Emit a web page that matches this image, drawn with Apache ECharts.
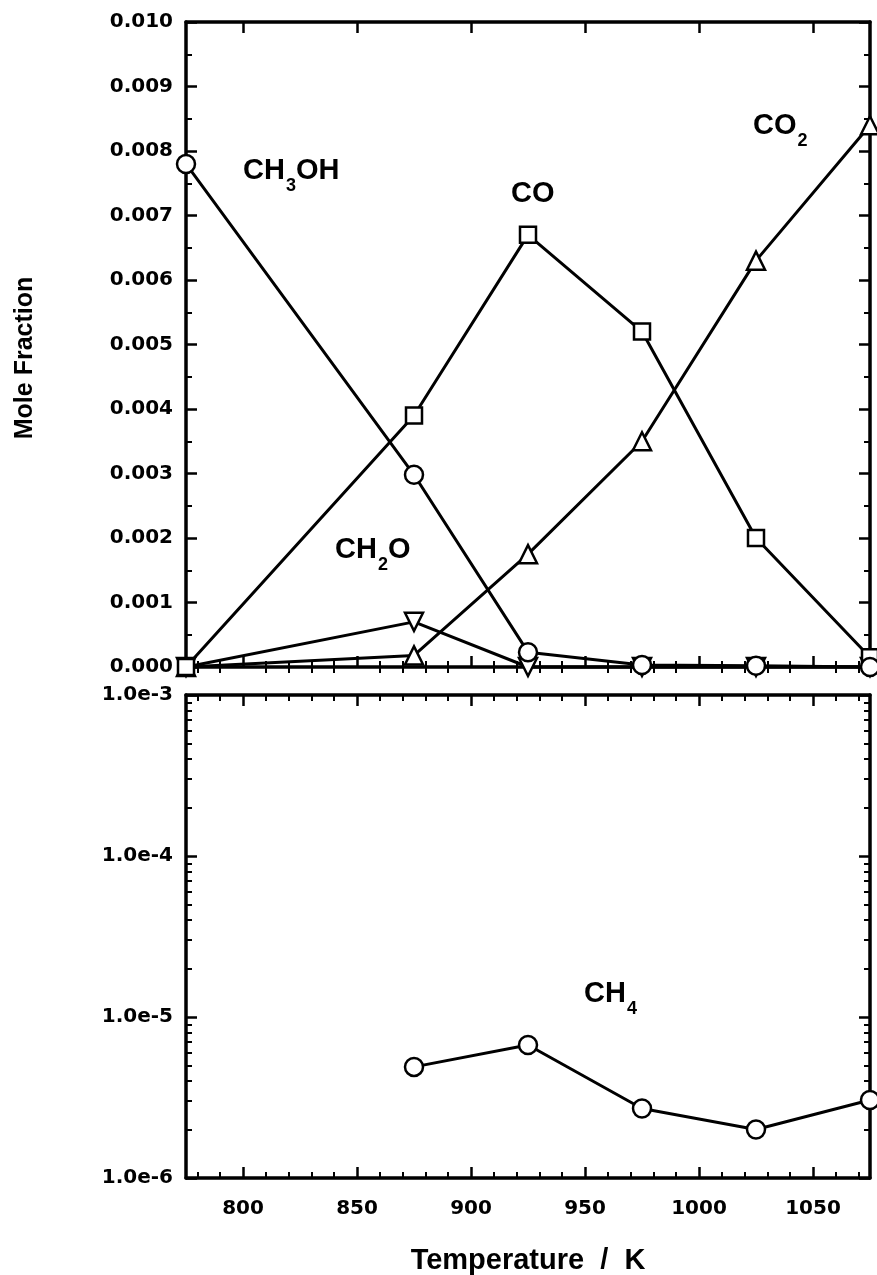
<!DOCTYPE html>
<html>
<head>
<meta charset="utf-8">
<script src="https://cdn.jsdelivr.net/npm/echarts@6/dist/echarts.min.js"></script>
<style>
  html, body { margin: 0; padding: 0; background: #fff; }
  #chart { width: 877px; height: 1275px; }
</style>
</head>
<body>
<div id="chart"></div>
<script>
// Reactor temperatures (K) and measured mole fractions
const temperatures = [775, 875, 925, 975, 1025, 1075];
const ch3oh = [0.0078, 0.00298, 0.00023, 0.00003, 0.00002, 0.0];
const co    = [0.0, 0.0039, 0.0067, 0.0052, 0.0020, 0.00015];
const co2   = [0.0, 0.00018, 0.00175, 0.0035, 0.0063, 0.0084];
const ch2o  = [0.0, 0.0007, 0.0, 0.0, 0.0, 0.0];

// Methane on the logarithmic panel
const ch4Temps = [875, 925, 975, 1025, 1075];
const ch4      = [4.9e-6, 6.7e-6, 2.7e-6, 2.0e-6, 3.05e-6];

// Tick positions
const xMajorTicks = [800, 850, 900, 950, 1000, 1050];
const xMinorTicks = [];
for (let t = 780; t < 1075; t += 10) if (t % 50 !== 0) xMinorTicks.push(t);
const logMinorTicks = [];
for (let e = -6; e < -3; e++) for (let k = 2; k <= 9; k++) logMinorTicks.push(Math.log10(k) + e);

const TICK_FONT = 'DejaVu Sans';
const LABEL_FONT = 'Liberation Sans';
const black = '#000';

function pairs(xs, ys) { return xs.map((x, i) => [x, ys[i]]); }

function xAxesFor(gridIndex, withLabels) {
  const base = { gridIndex, type: 'value', min: 775, max: 1075, splitLine: { show: false } };
  const line = { show: true, onZero: false, lineStyle: { color: black, width: 3.5 } };
  const major = (pos) => ({
    ...base, position: pos, axisLine: line,
    axisTick: { show: true, inside: true, length: 11, customValues: xMajorTicks, lineStyle: { color: black, width: 2.5 } },
    axisLabel: { show: withLabels && pos === 'bottom', customValues: xMajorTicks, margin: 21,
      formatter: v => String(v),
      color: black, fontFamily: TICK_FONT, fontWeight: 'bold', fontSize: 20 },
    ...(withLabels && pos === 'bottom' ? {
      name: 'Temperature  /  K', nameLocation: 'middle', nameGap: 68,
      nameTextStyle: { color: black, fontFamily: LABEL_FONT, fontWeight: 'bold', fontSize: 29 }
    } : {})
  });
  const minor = (pos) => ({
    ...base, position: pos, axisLine: { show: false },
    axisTick: { show: true, inside: true, length: 6, customValues: xMinorTicks, lineStyle: { color: black, width: 2 } },
    axisLabel: { show: false }
  });
  return [major('bottom'), minor('bottom'), major('top'), minor('top')];
}

const yLinear = (pos) => ({
  gridIndex: 0, type: 'value', position: pos, min: 0, max: 0.01, interval: 0.001,
  splitLine: { show: false },
  axisLine: { show: true, onZero: false, lineStyle: { color: black, width: 3.5 } },
  axisTick: { show: true, inside: true, length: 11, lineStyle: { color: black, width: 2.5 } },
  minorTick: { show: true, splitNumber: 2, length: 6, lineStyle: { color: black, width: 2 } },
  minorSplitLine: { show: false },
  axisLabel: { show: pos === 'left', margin: 13, formatter: v => v.toFixed(3),
    color: black, fontFamily: TICK_FONT, fontWeight: 'bold', fontSize: 20 }
});

const yLog = (pos) => ({
  gridIndex: 1, type: 'log', logBase: 10, position: pos, min: 1e-6, max: 1e-3,
  splitLine: { show: false },
  axisLine: { show: true, onZero: false, lineStyle: { color: black, width: 3.5 } },
  axisTick: { show: true, inside: true, length: 11, lineStyle: { color: black, width: 2.5 } },
  axisLabel: { show: pos === 'left', margin: 13,
    formatter: v => '1.0e' + Math.round(Math.log10(v)),
    color: black, fontFamily: TICK_FONT, fontWeight: 'bold', fontSize: 20 }
});

const yLogMinor = (pos) => ({
  gridIndex: 1, type: 'value', position: pos, min: -6, max: -3,
  splitLine: { show: false }, axisLine: { show: false }, axisLabel: { show: false },
  axisTick: { show: true, inside: true, length: 6, customValues: logMinorTicks, lineStyle: { color: black, width: 2 } }
});

const markerStyle = { color: '#fff', borderColor: black, borderWidth: 2.5 };
function species(name, ys, symbol, size, rotate) {
  return {
    name, type: 'line', xAxisIndex: 0, yAxisIndex: 0, clip: false,
    data: pairs(temperatures, ys),
    symbol, symbolSize: size, symbolRotate: rotate || 0, showAllSymbol: true,
    lineStyle: { color: black, width: 3 }, itemStyle: markerStyle, z: 3
  };
}

// Chemical formula labels with subscripts
function formula(parts, x, y) {
  return {
    type: 'text', x, y, z: 10,
    style: {
      text: parts.map(p => (p.sub ? '{s|' : '{m|') + p.t + '}').join(''),
      verticalAlign: 'middle',
      rich: {
        m: { fontFamily: LABEL_FONT, fontWeight: 'bold', fontSize: 29, fill: black, lineHeight: 29 },
        s: { fontFamily: LABEL_FONT, fontWeight: 'bold', fontSize: 18, fill: black, padding: [30, 0, 0, 1] }
      }
    }
  };
}

const chart = echarts.init(document.getElementById('chart'), null, { renderer: 'canvas' });
chart.setOption({
  backgroundColor: '#fff',
  animation: false,
  grid: [
    { left: 186, right: 7, top: 22, height: 645, outerBoundsMode: 'none' },
    { left: 186, right: 7, top: 695, bottom: 97, outerBoundsMode: 'none' }
  ],
  xAxis: [...xAxesFor(0, false), ...xAxesFor(1, true)],
  yAxis: [yLinear('left'), yLinear('right'), yLog('left'), yLog('right'), yLogMinor('left'), yLogMinor('right')],
  series: [
    species('CH2O', ch2o, 'triangle', 18, 180),
    species('CO2', co2, 'triangle', 18, 0),
    species('CO', co, 'rect', 16, 0),
    species('CH3OH', ch3oh, 'circle', 18, 0),
    {
      name: 'CH4', type: 'line', xAxisIndex: 4, yAxisIndex: 2, clip: false,
      data: pairs(ch4Temps, ch4),
      symbol: 'circle', symbolSize: 18,
      lineStyle: { color: black, width: 3 }, itemStyle: markerStyle
    }
  ],
  graphic: [
    {
      type: 'text', x: 25, y: 358, rotation: Math.PI / 2, z: 10,
      style: { text: 'Mole Fraction', align: 'center', verticalAlign: 'middle',
        fontFamily: LABEL_FONT, fontWeight: 'bold', fontSize: 25, fill: black }
    },
    formula([{ t: 'CH' }, { t: '3', sub: true }, { t: 'OH' }], 243, 171),
    formula([{ t: 'CO' }], 511, 194),
    formula([{ t: 'CO' }, { t: '2', sub: true }], 753, 126),
    formula([{ t: 'CH' }, { t: '2', sub: true }, { t: 'O' }], 335, 550),
    formula([{ t: 'CH' }, { t: '4', sub: true }], 584, 994)
  ]
});
</script>
</body>
</html>
